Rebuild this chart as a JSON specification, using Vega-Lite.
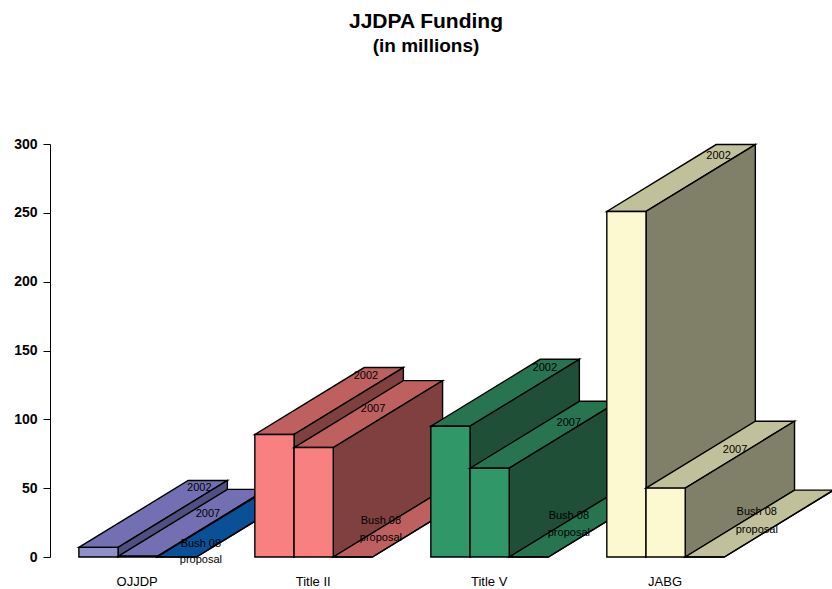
{
"$schema":"https://vega.github.io/schema/vega-lite/v6.json",
"width":782,"height":413,
"autosize":{"type":"none"},
"padding":{"left":50,"top":144,"right":0,"bottom":32},
"background":"white",
"view":{"stroke":null},
"title":{"text":"JJDPA Funding","subtitle":"(in millions)","anchor":"middle","dx":-15,"offset":81,"font":"Liberation Sans","fontSize":21,"fontWeight":"bold","color":"black","subtitleFont":"Liberation Sans","subtitleFontSize":19,"subtitleFontWeight":"bold","subtitleColor":"black","subtitlePadding":5},
"datasets":{
"bars":[
{"program":"OJJDP","series":"2002","value":7},
{"program":"OJJDP","series":"2007","value":0.5},
{"program":"OJJDP","series":"Bush 08","value":0},
{"program":"Title II","series":"2002","value":89},
{"program":"Title II","series":"2007","value":79.5},
{"program":"Title II","series":"Bush 08","value":0},
{"program":"Title V","series":"2002","value":95},
{"program":"Title V","series":"2007","value":64.5},
{"program":"Title V","series":"Bush 08","value":0},
{"program":"JABG","series":"2002","value":251},
{"program":"JABG","series":"2007","value":50},
{"program":"JABG","series":"Bush 08","value":0}
],
"labels":[
{"text":"2002","u":3.79,"v":50.5},
{"text":"2002","u":8.02,"v":132.2},
{"text":"2002","u":12.56,"v":138},
{"text":"2002","u":16.97,"v":292},
{"text":"2007","u":4.01,"v":32},
{"text":"2007","u":8.2,"v":108.2},
{"text":"2007","u":13.17,"v":98},
{"text":"2007","u":17.39,"v":78.4},
{"text":"Bush 08","u":3.83,"v":10.2},
{"text":"proposal","u":3.83,"v":-1.5},
{"text":"Bush 08","u":8.4,"v":26.9},
{"text":"proposal","u":8.4,"v":14.5},
{"text":"Bush 08","u":13.17,"v":30.5},
{"text":"proposal","u":13.17,"v":18.2},
{"text":"Bush 08","u":17.94,"v":33.4},
{"text":"proposal","u":17.94,"v":20.3}
]
},
"layer":[
{
"data":{"name":"bars"},
"transform":[
{"calculate":"indexof(['OJJDP','Title II','Title V','JABG'],datum.program)*4.467+indexof(['2002','2007','Bush 08'],datum.series)*0.995+0.733","as":"x0"},
{"calculate":"['top','side','front']","as":"face"},
{"flatten":["face"]},
{"calculate":"[0,1,2,3]","as":"vertex"},
{"flatten":["vertex"]},
{"calculate":"datum.x0+{top:[0,0.995,3.77,2.775],side:[0.995,0.995,3.77,3.77],front:[0,0.995,0.995,0]}[datum.face][datum.vertex]","as":"u"},
{"calculate":"datum.value*{top:[1,1,1,1],side:[1,0,0,1],front:[0,0,1,1]}[datum.face][datum.vertex]+48.6*{top:[0,0,1,1],side:[0,0,1,1],front:[0,0,0,0]}[datum.face][datum.vertex]","as":"v"},
{"calculate":"datum.program+'|'+datum.series+'|'+datum.face","as":"polygon"},
{"calculate":"datum.program=='OJJDP'&&datum.series=='Bush 08'&&datum.face=='top'?'OJJDP floor':datum.program+' '+datum.face","as":"shade"}
],
"mark":{"type":"line","interpolate":"linear-closed","stroke":"black","strokeWidth":1.4,"strokeJoin":"miter","clip":false},
"encoding":{
"x":{"field":"u","type":"quantitative","scale":{"domain":[0,19.85],"nice":false,"zero":false},"axis":{"title":null,"values":[2.2,6.667,11.134,15.601],"labelExpr":"['OJJDP','Title II','Title V','JABG'][round((datum.value-2.2)/4.467)]","domain":false,"ticks":false,"grid":false,"labelPadding":18,"labelFont":"Liberation Sans","labelFontSize":13,"labelColor":"black"}},
"y":{"field":"v","type":"quantitative","scale":{"domain":[0,300],"nice":false},"axis":{"title":null,"values":[0,50,100,150,200,250,300],"grid":false,"domainColor":"black","domainWidth":1,"tickColor":"black","tickWidth":1,"tickSize":7,"labelPadding":6,"labelFont":"Liberation Sans","labelFontSize":14,"labelFontWeight":"bold","labelColor":"black"}},
"order":{"field":"vertex","type":"quantitative"},
"detail":{"field":"polygon"},
"fill":{"field":"shade","type":"nominal","legend":null,"scale":{
"domain":["OJJDP front","OJJDP top","OJJDP side","OJJDP floor","Title II front","Title II top","Title II side","Title V front","Title V top","Title V side","JABG front","JABG top","JABG side"],
"range":["#9090c8","#7270b2","#4f4f80","#0a5096","#f88080","#be6060","#804040","#309868","#267550","#1f4f36","#fcf8d0","#c0c09a","#808068"]}}
}
},
{
"data":{"name":"labels"},
"mark":{"type":"text","font":"Liberation Sans","fontSize":11,"color":"black","align":"center","baseline":"middle","dy":1},
"encoding":{
"x":{"field":"u","type":"quantitative"},
"y":{"field":"v","type":"quantitative"},
"text":{"field":"text"}
}
}
]
}
